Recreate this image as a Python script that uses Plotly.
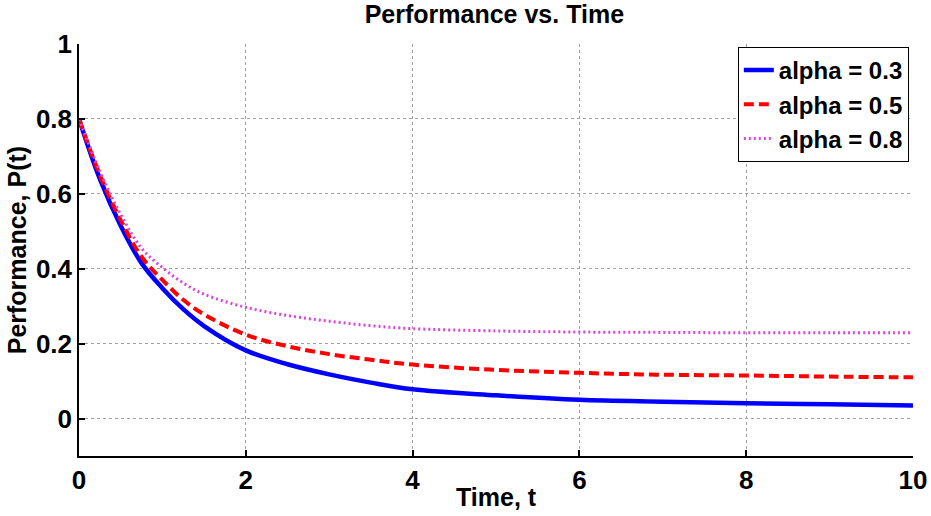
import plotly.graph_objects as go

# Data
t = [0, 0.25, 0.5, 0.75, 1.0, 1.25, 1.5, 2.0, 2.5, 3.0, 3.5, 4.0, 5.0, 6.0, 7.0, 8.0, 9.0, 10.0]
p_alpha03 = [0.80, 0.640, 0.515, 0.415, 0.348, 0.292, 0.247, 0.182, 0.145, 0.118, 0.096, 0.078, 0.062, 0.050, 0.045, 0.041, 0.038, 0.035]
p_alpha05 = [0.80, 0.650, 0.530, 0.432, 0.370, 0.317, 0.278, 0.224, 0.193, 0.172, 0.157, 0.144, 0.130, 0.122, 0.117, 0.115, 0.112, 0.110]
p_alpha08 = [0.80, 0.660, 0.545, 0.455, 0.403, 0.362, 0.332, 0.297, 0.275, 0.260, 0.248, 0.240, 0.234, 0.231, 0.230, 0.229, 0.229, 0.229]
series_names = ["alpha = 0.3", "alpha = 0.5", "alpha = 0.8"]
x_ticks = [0, 2, 4, 6, 8, 10]
y_ticks = [0, 0.2, 0.4, 0.6, 0.8, 1.0]
y_tick_text = ["0", "0.2", "0.4", "0.6", "0.8", "1"]
x_title = "Time, t"
y_title = "Performance, P(t)"
chart_title = "Performance vs. Time"

FONT = "Liberation Sans, Arial, Helvetica, sans-serif"

fig = go.Figure()
fig.add_trace(go.Scatter(x=t, y=p_alpha03, mode="lines", name=series_names[0],
                         line=dict(color="#0000ff", width=4.5, shape="spline", smoothing=1.0)))
fig.add_trace(go.Scatter(x=t, y=p_alpha05, mode="lines", name=series_names[1],
                         line=dict(color="#ff0000", width=4, dash="10px,5px", shape="spline", smoothing=1.0)))
fig.add_trace(go.Scatter(x=t, y=p_alpha08, mode="lines", name=series_names[2],
                         line=dict(color="#dd44dd", width=3, dash="2px,3px", shape="spline", smoothing=1.0)))

axis_common = dict(
    showgrid=True, gridcolor="#a0a0a0", griddash="dot", gridwidth=1,
    showline=True, linecolor="black", linewidth=1.5, mirror=False,
    ticks="inside", ticklen=6, tickcolor="black", tickwidth=1.5,
    zeroline=False, automargin=False,
    tickfont=dict(family=FONT, size=26, color="black", weight="bold"),
)

fig.update_xaxes(range=[0, 10], tickvals=x_ticks, **axis_common)
fig.update_yaxes(range=[-0.1, 1.0], tickvals=y_ticks, ticktext=y_tick_text, **axis_common)

title_font = dict(family=FONT, size=25, color="black", weight="bold")
fig.add_annotation(text=x_title, xref="paper", yref="paper", x=0.5, y=-0.099,
                   xanchor="center", yanchor="middle", showarrow=False, font=title_font)
fig.add_annotation(text=y_title, xref="paper", yref="paper", x=-0.074, y=0.5, textangle=-90,
                   xanchor="center", yanchor="middle", showarrow=False, font=title_font)

fig.update_layout(
    width=931, height=516,
    margin=dict(l=79, r=18, t=44, b=60),
    paper_bgcolor="white", plot_bgcolor="white",
    title=dict(text=chart_title, x=0.531, xanchor="center", y=0.972, yanchor="middle", yref="container",
               font=title_font),
    legend=dict(x=0.995, xanchor="right", y=0.993, yanchor="top",
                bgcolor="white", bordercolor="black", borderwidth=1,
                font=dict(family=FONT, size=24, color="black", weight="bold"),
                itemwidth=30, tracegroupgap=0),
    showlegend=True,
)

fig.write_html("out.html")
